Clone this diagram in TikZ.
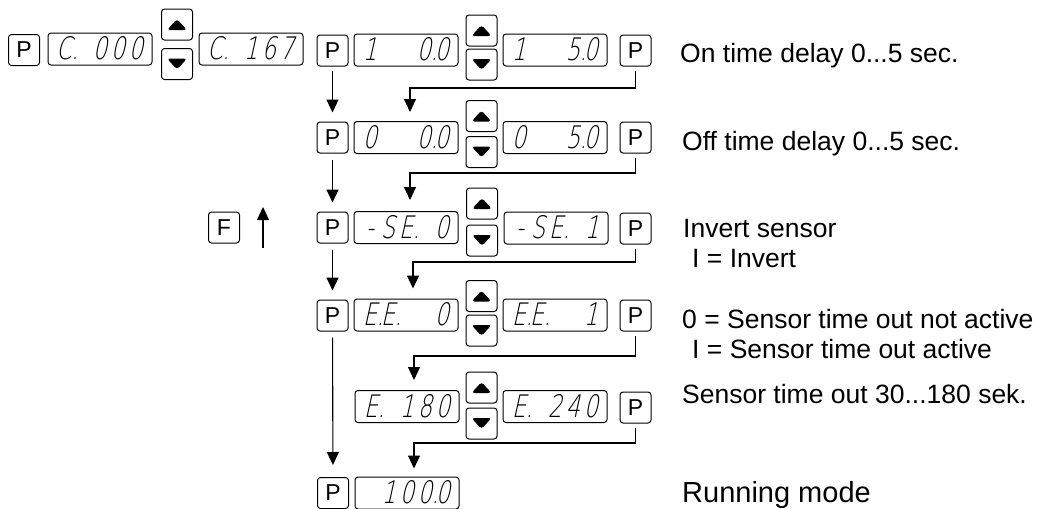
\documentclass[tikz,border=0pt]{standalone}
\usepackage{fontspec}
\setmainfont{Liberation Sans}
\newfontfamily\segfont[FakeSlant=0.22,FakeStretch=0.72]{DejaVu Sans ExtraLight}
\usetikzlibrary{arrows.meta}
\newcommand\dsp[5]{{\segfont\fontsize{31}{31}\selectfont\makebox[18pt]{#1}\makebox[18pt]{#2}\makebox[18pt]{#3}\makebox[18pt]{#4}\makebox[18pt]{#5}}}
\newcommand\dt[1]{#1\rlap{\kern-0.5pt.}}
\tikzset{
  pbox/.style={draw, line width=1pt, rounded corners=3pt, minimum width=31pt, minimum height=31pt, inner sep=0pt, font=\fontsize{23}{23}\selectfont},
  disp/.style={draw, line width=1pt, rounded corners=3pt, minimum width=104pt, minimum height=32pt, inner sep=0pt, text height=21pt, text depth=0pt},
  btnup/.style={draw, line width=1pt, rounded corners=3pt, minimum width=31pt, minimum height=31pt, inner sep=0pt,
    path picture={\fill ([xshift=-10pt,yshift=-5.5pt]path picture bounding box.center) -- ++(20pt,0pt) -- ++(-10pt,11pt) -- cycle;}},
  btndn/.style={draw, line width=1pt, rounded corners=3pt, minimum width=31pt, minimum height=31pt, inner sep=0pt,
    path picture={\fill ([xshift=-10pt,yshift=5.5pt]path picture bounding box.center) -- ++(20pt,0pt) -- ++(-10pt,-11pt) -- cycle;}},
  arr/.style={-{Triangle[length=13pt,width=12pt]}, line width=1.1pt},
  lbl/.style={anchor=base west, inner sep=0pt, font=\fontsize{26.5}{30}\selectfont},
}
\begin{document}
\begin{tikzpicture}[x=1pt,y=-1pt]
\useasboundingbox (0,0) rectangle (1037,509);
% row 1
\node[pbox] (p0) at (24,50) {P};
\node[disp] (d0) at (100,49) {\dsp{\dt{C}}{}{0}{0}{0}};
\node[btnup] (u0) at (177,24.5) {};
\node[btndn] (n0) at (177,64) {};
\node[disp] (d1) at (251,49) {\dsp{\dt{C}}{}{1}{6}{7}};
\node[pbox] (p1) at (332.5,50.5) {P};
\node[disp] (d2) at (406,50) {\dsp{1}{}{}{\dt{0}}{0}};
\node[btnup] (u1) at (481.5,30.5) {};
\node[btndn] (n1) at (481.5,64.5) {};
\node[disp] (d3) at (555,50) {\dsp{1}{}{}{\dt{5}}{0}};
\node[pbox] (p2) at (635.5,50.5) {P};
% row 2
\node[pbox] (p3) at (332.5,137.5) {P};
\node[disp] (d4) at (406,137.5) {\dsp{0}{}{}{\dt{0}}{0}};
\node[btnup] (u2) at (481.5,116) {};
\node[btndn] (n2) at (481.5,152) {};
\node[disp] (d5) at (555,137.5) {\dsp{0}{}{}{\dt{5}}{0}};
\node[pbox] (p4) at (635.5,137.5) {P};
% row 3
\node[pbox] (f0) at (224,227.5) {F};
\node[pbox] (p5) at (332.5,227.5) {P};
\node[disp] (d6) at (406,227.5) {\dsp{-}{S}{\dt{E}}{}{0}};
\node[btnup] (u3) at (482,203.5) {};
\node[btndn] (n3) at (482,240.5) {};
\node[disp] (d7) at (556,228) {\dsp{-}{S}{\dt{E}}{}{1}};
\node[pbox] (p6) at (635.5,228.5) {P};
% row 4
\node[pbox] (p7) at (332.5,315.5) {P};
\node[disp] (d8) at (406,315) {\dsp{\dt{E}}{\dt{E}}{}{}{0}};
\node[btnup] (u4) at (481.5,296) {};
\node[btndn] (n4) at (481.5,330.5) {};
\node[disp] (d9) at (555,315) {\dsp{\dt{E}}{\dt{E}}{}{}{1}};
\node[pbox] (p8) at (635.5,315.5) {P};
% row 5
\node[disp] (d10) at (407,406.5) {\dsp{\dt{E}}{}{1}{8}{0}};
\node[btnup] (u5) at (481.5,387.5) {};
\node[btndn] (n5) at (481.5,423.5) {};
\node[disp] (d11) at (555,406.5) {\dsp{\dt{E}}{}{2}{4}{0}};
\node[pbox] (p9) at (635.5,407.5) {P};
% row 6
\node[pbox] (p10) at (333,493) {P};
\node[disp] (d12) at (407,493) {\dsp{}{1}{0}{\dt{0}}{0}};
% labels
\node[lbl] (t1) at (680,62) {On time delay 0...5 sec.};
\node[lbl] (t2) at (682,150) {Off time delay 0...5 sec.};
\node[lbl] (t3) at (683,237) {Invert sensor};
\node[lbl] (t4) at (692,267) {I = Invert};
\node[lbl] (t5) at (682,328) {0 = Sensor time out not active};
\node[lbl] (t6) at (692,358) {I = Sensor time out active};
\node[lbl] (t7) at (682,403) {Sensor time out 30...180 sek.};
\node[lbl, font=\fontsize{29}{32}\selectfont] (t8) at (682,502) {Running mode};
% turning points
\coordinate (c1) at (410,88);
\coordinate (c2) at (410,173);
\coordinate (c3) at (413,262);
\coordinate (c4) at (414,356);
\coordinate (c5) at (414,443);
\coordinate (fa) at (263,248);
\coordinate (fb) at (263,207);
% connectors
\draw[arr, shorten <=4pt, shorten >=9pt] (p1) -- (p3);
\draw[arr, shorten <=6pt, shorten >=9pt] (p3) -- (p5);
\draw[arr, shorten <=6pt, shorten >=9pt] (p5) -- (p7);
\draw[arr, shorten <=6pt, shorten >=12pt] (p7) -- (p10);
\draw[arr, shorten <=4pt, shorten >=9pt] (p2) |- (c1) -- (c1 |- d4.north);
\draw[arr, shorten <=4pt, shorten >=11pt] (p4) |- (c2) -- (c2 |- d6.north);
\draw[arr, shorten <=4pt, shorten >=10pt] (p6) |- (c3) -- (c3 |- d8.north);
\draw[arr, shorten <=4pt, shorten >=10pt] (p8) |- (c4) -- (c4 |- d10.north);
\draw[arr, shorten <=4pt, shorten >=8pt] (p9) |- (c5) -- (c5 |- d12.north);
\draw[arr] (fa) -- (fb);
\end{tikzpicture}
\end{document}
